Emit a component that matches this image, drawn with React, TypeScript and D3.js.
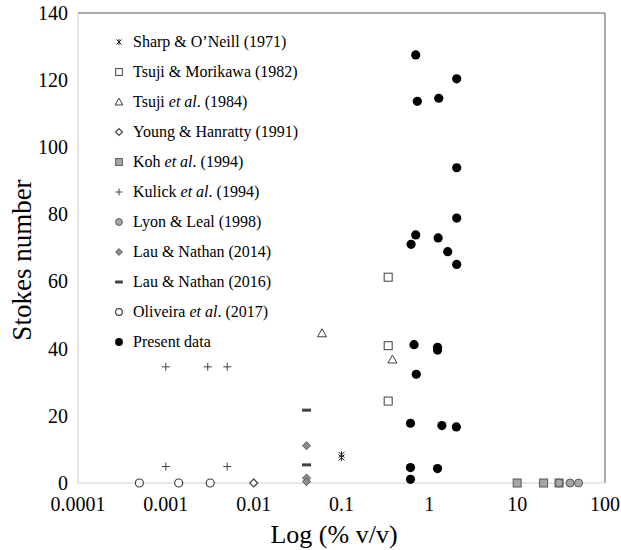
import React from "react";
import * as d3 from "d3";

const W = 621;
const H = 550;

// ---- Data ----
const xTicks = [0.0001, 0.001, 0.01, 0.1, 1, 10, 100];
const xTickLabels = ["0.0001", "0.001", "0.01", "0.1", "1", "10", "100"];
const yTicks = [0, 20, 40, 60, 80, 100, 120, 140];

const sharpX = [0.1, 0.1];
const sharpY = [7.6, 8.4];
const tsujiMorikawaX = [0.34, 0.34, 0.34];
const tsujiMorikawaY = [61.3, 40.9, 24.4];
const tsuji1984X = [0.06, 0.38];
const tsuji1984Y = [44.6, 36.8];
const youngX = [0.01];
const youngY = [0];
const kohX = [10, 20, 30];
const kohY = [0, 0, 0];
const kulickX = [0.001, 0.003, 0.005, 0.001, 0.005];
const kulickY = [34.6, 34.6, 34.6, 4.9, 4.9];
const lyonX = [30, 40, 50];
const lyonY = [0, 0, 0];
const lau2014X = [0.04, 0.04, 0.04];
const lau2014Y = [11.1, 1.5, 0.4];
const lau2016X = [0.04, 0.04];
const lau2016Y = [21.7, 5.4];
const oliveiraX = [0.0005, 0.0014, 0.0032];
const oliveiraY = [0, 0, 0];
const presentX = [0.7, 2.05, 0.73, 1.28, 2.05, 2.05, 0.7, 0.62, 1.26, 1.62, 2.05, 0.67, 1.24, 1.24, 0.71, 0.61, 1.39, 2.03, 0.61, 1.24, 0.61];
const presentY = [127.5, 120.4, 113.7, 114.6, 93.9, 78.9, 73.9, 71.1, 73.0, 68.9, 65.1, 41.2, 40.4, 39.6, 32.4, 17.8, 17.1, 16.7, 4.6, 4.3, 1.1];

type Kind = "star" | "openSquare" | "openTriangle" | "openDiamond" | "graySquare" | "plus" | "grayCircle" | "grayDiamond" | "dash" | "openCircle" | "blackCircle";

const seriesNames = [
  "Sharp & O\u2019Neill (1971)",
  "Tsuji & Morikawa (1982)",
  "Tsuji et al. (1984)",
  "Young & Hanratty (1991)",
  "Koh et al. (1994)",
  "Kulick et al. (1994)",
  "Lyon & Leal (1998)",
  "Lau & Nathan (2014)",
  "Lau & Nathan (2016)",
  "Oliveira et al.  (2017)",
  "Present data",
];

const series: { kind: Kind; xs: number[]; ys: number[] }[] = [
  { kind: "star", xs: sharpX, ys: sharpY },
  { kind: "openSquare", xs: tsujiMorikawaX, ys: tsujiMorikawaY },
  { kind: "openTriangle", xs: tsuji1984X, ys: tsuji1984Y },
  { kind: "openDiamond", xs: youngX, ys: youngY },
  { kind: "graySquare", xs: kohX, ys: kohY },
  { kind: "plus", xs: kulickX, ys: kulickY },
  { kind: "grayCircle", xs: lyonX, ys: lyonY },
  { kind: "grayDiamond", xs: lau2014X, ys: lau2014Y },
  { kind: "dash", xs: lau2016X, ys: lau2016Y },
  { kind: "openCircle", xs: oliveiraX, ys: oliveiraY },
  { kind: "blackCircle", xs: presentX, ys: presentY },
];

const M = { left: 78, right: 605, top: 13, bottom: 483 };
const x = d3.scaleLog().domain([0.0001, 100]).range([M.left, M.right]);
const y = d3.scaleLinear().domain([0, 140]).range([M.bottom, M.top]);

const FONT = "Liberation Serif";
const DARK = "#404040";
const GRAY = "#a6a6a6";
const GRAYSTROKE = "#595959";

function Marker({ kind, cx, cy, s = 1 }: { kind: Kind; cx: number; cy: number; s?: number }) {
  const h = 4 * s;
  switch (kind) {
    case "star":
      return (
        <g stroke="#222" strokeWidth={1}>
          <line x1={cx - 3 * s} y1={cy - 3 * s} x2={cx + 3 * s} y2={cy + 3 * s} />
          <line x1={cx - 3 * s} y1={cy + 3 * s} x2={cx + 3 * s} y2={cy - 3 * s} />
          <line x1={cx} y1={cy - 3.5 * s} x2={cx} y2={cy + 3.5 * s} />
        </g>
      );
    case "openSquare":
      return <rect x={cx - h} y={cy - h} width={2 * h} height={2 * h} fill="#fff" stroke={DARK} strokeWidth={1} />;
    case "graySquare":
      return <rect x={cx - h} y={cy - h} width={2 * h} height={2 * h} fill={GRAY} stroke={GRAYSTROKE} strokeWidth={1} />;
    case "openTriangle":
      return (
        <path
          d={`M${cx},${cy - 4.5 * s}L${cx + 4.5 * s},${cy + 3.5 * s}L${cx - 4.5 * s},${cy + 3.5 * s}Z`}
          fill="#fff"
          stroke={DARK}
          strokeWidth={1}
        />
      );
    case "openDiamond":
      return (
        <path d={`M${cx},${cy - h}L${cx + h},${cy}L${cx},${cy + h}L${cx - h},${cy}Z`} fill="#fff" stroke={DARK} strokeWidth={1.2} />
      );
    case "grayDiamond":
      return (
        <path d={`M${cx},${cy - h}L${cx + h},${cy}L${cx},${cy + h}L${cx - h},${cy}Z`} fill="#8c8c8c" stroke={GRAYSTROKE} strokeWidth={1} />
      );
    case "plus":
      return (
        <g stroke={DARK} strokeWidth={1}>
          <line x1={cx - h} y1={cy} x2={cx + h} y2={cy} />
          <line x1={cx} y1={cy - h} x2={cx} y2={cy + h} />
        </g>
      );
    case "grayCircle":
      return <circle cx={cx} cy={cy} r={h} fill={GRAY} stroke={GRAYSTROKE} strokeWidth={1} />;
    case "dash":
      return <line x1={cx - 4.5 * s} y1={cy} x2={cx + 4.5 * s} y2={cy} stroke={DARK} strokeWidth={3} />;
    case "openCircle":
      return <circle cx={cx} cy={cy} r={h} fill="#fff" stroke={DARK} strokeWidth={1.2} />;
    case "blackCircle":
      return <circle cx={cx} cy={cy} r={4.6 * s} fill="#000" />;
  }
}

function LegendLabel({ text }: { text: string }) {
  const m = text.match(/^(.*?)(et al)(\..*)$/);
  if (!m) return <>{text}</>;
  return (
    <>
      {m[1]}
      <tspan style={{ fontStyle: "italic", fontFamily: FONT }}>{m[2]}</tspan>
      {m[3]}
    </>
  );
}

const tStyle = { fontFamily: FONT };

export default function App() {
  return (
    <svg width={W} height={H} style={{ position: "absolute", left: 0, top: 0, background: "#fff" }}>
      <rect x={0} y={0} width={W} height={H} fill="#fff" />
      {/* plot border */}
      <line x1={M.left} y1={M.top} x2={M.right} y2={M.top} stroke="#595959" strokeWidth={1} />
      <line x1={M.right} y1={M.top} x2={M.right} y2={M.bottom} stroke="#595959" strokeWidth={1} />
      <line x1={M.left} y1={M.top} x2={M.left} y2={M.bottom} stroke="#d0d0d0" strokeWidth={1} />
      <line x1={M.left} y1={M.bottom} x2={M.right} y2={M.bottom} stroke="#d0d0d0" strokeWidth={1} />

      {/* y ticks */}
      {yTicks.map((t) => (
        <text key={t} x={68} y={y(t)} dy="0.34em" textAnchor="end" fontSize={20} fill="#000" style={tStyle}>
          {t}
        </text>
      ))}
      {/* x ticks */}
      {xTicks.map((t, i) => (
        <text key={t} x={x(t)} y={511} textAnchor="middle" fontSize={20} fill="#000" style={tStyle}>
          {xTickLabels[i]}
        </text>
      ))}

      <text x={334} y={543} textAnchor="middle" fontSize={26} fill="#000" style={tStyle}>
        Log (% v/v)
      </text>
      <text transform={`translate(31,${(M.top + M.bottom) / 2 + 12}) rotate(-90)`} textAnchor="middle" fontSize={27} fill="#000" style={tStyle}>
        Stokes number
      </text>

      {/* data */}
      {series.map((s, si) => (
        <g key={si}>
          {s.xs.map((v, i) => (
            <Marker key={i} kind={s.kind} cx={x(v)} cy={y(s.ys[i])} />
          ))}
        </g>
      ))}

      {/* legend */}
      {seriesNames.map((name, i) => {
        const ly = 42 + i * 30;
        return (
          <g key={name}>
            <Marker kind={series[i].kind} cx={119} cy={ly} s={0.85} />
            <text x={133} y={ly} dy="0.33em" fontSize={16} fill="#000" style={tStyle}>
              <LegendLabel text={name} />
            </text>
          </g>
        );
      })}
    </svg>
  );
}
